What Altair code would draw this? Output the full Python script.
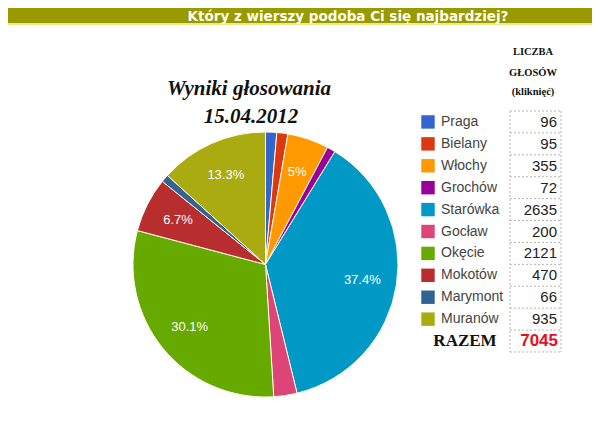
import altair as alt
import pandas as pd

# ---- data ----
names = ["Praga", "Bielany", "Włochy", "Grochów", "Starówka", "Gocław",
         "Okęcie", "Mokotów", "Marymont", "Muranów"]
votes = [96, 95, 355, 72, 2635, 200, 2121, 470, 66, 935]
colors = ["#3366cc", "#dc3912", "#ff9900", "#990099", "#0099c6", "#dd4477",
          "#66aa00", "#b82e2e", "#316395", "#aaaa11"]
title_text = "Który z wierszy podoba Ci się najbardziej?"
subtitle_lines = ["Wyniki głosowania", "15.04.2012"]
header_lines = ["LICZBA", "GŁOSÓW", "(kliknięć)"]
total_label = "RAZEM"

total = sum(votes)


def pct_label(v):
    p = v / total * 100
    if p < 4:
        return ""
    s = f"{p:.1f}"
    if s.endswith(".0"):
        s = s[:-2]
    return s + "%"


df = pd.DataFrame({
    "name": names,
    "votes": votes,
    "idx": list(range(len(names))),
    "row": list(range(len(names))),
    "label": [pct_label(v) for v in votes],
    "vstr": [str(v) for v in votes],
})

W, H = 584, 418
CX, CY, R = 257.5, 256.5, 132.5

color_scale = alt.Scale(domain=names, range=colors)
yscale = alt.Scale(domain=[-0.5, 10.5], range=[103, 344])
one = pd.DataFrame({"a": [0]})

# title bar
bar = alt.Chart(one).mark_rect(color="#999900").encode(
    x=alt.value(0), x2=alt.value(W), y=alt.value(0), y2=alt.value(15))
bar_line = alt.Chart(one).mark_rect(color="#ece98a").encode(
    x=alt.value(0), x2=alt.value(W), y=alt.value(15), y2=alt.value(17))
bar_text = alt.Chart(pd.DataFrame({"t": [title_text]})).mark_text(
    font="DejaVu Sans", fontWeight="bold", fontSize=13.5, color="#fffff0",
    align="center", baseline="middle").encode(
    x=alt.value(340), y=alt.value(8.5), text="t:N")

# subtitle
sub1 = alt.Chart(pd.DataFrame({"t": [subtitle_lines[0]]})).mark_text(
    font="Liberation Serif", fontWeight="bold", fontStyle="italic", fontSize=21,
    color="#111", align="center", baseline="middle").encode(
    x=alt.value(241), y=alt.value(81), text="t:N")
sub2 = alt.Chart(pd.DataFrame({"t": [subtitle_lines[1]]})).mark_text(
    font="Liberation Serif", fontWeight="bold", fontStyle="italic", fontSize=21,
    color="#111", align="center", baseline="middle").encode(
    x=alt.value(243), y=alt.value(109), text="t:N")

# pie
base = alt.Chart(df)
pie = base.mark_arc(outerRadius=R, stroke="#fffbe8", strokeWidth=1).encode(
    theta=alt.Theta("votes:Q", stack=True),
    color=alt.Color("name:N", scale=color_scale, legend=None),
    order=alt.Order("idx:Q"),
    x=alt.value(CX), y=alt.value(CY))
pie_text = base.mark_text(radius=98, font="Liberation Sans", fontSize=13,
                          color="#ffffff").encode(
    theta=alt.Theta("votes:Q", stack=True),
    detail="name:N",
    order=alt.Order("idx:Q"),
    text="label:N",
    x=alt.value(CX), y=alt.value(CY))

# legend
squares = base.mark_square(size=180, opacity=1).encode(
    x=alt.value(420),
    y=alt.Y("row:Q", scale=yscale, axis=None),
    color=alt.Color("name:N", scale=color_scale, legend=None))
leg_text = base.mark_text(align="left", baseline="middle", font="Liberation Sans",
                          fontSize=14, color="#444").encode(
    x=alt.value(433),
    y=alt.Y("row:Q", scale=yscale, axis=None),
    text="name:N")
num_text = base.mark_text(align="right", baseline="middle", font="Liberation Sans",
                          fontSize=15, color="#222").encode(
    x=alt.value(549),
    y=alt.Y("row:Q", scale=yscale, axis=None),
    text="vstr:N")

# table grid
bounds = pd.DataFrame({"b": [i - 0.5 for i in range(len(names) + 2)]})
hrules = alt.Chart(bounds).mark_rule(color="#b5b5b5", strokeDash=[2, 2]).encode(
    y=alt.Y("b:Q", scale=yscale, axis=None), x=alt.value(502), x2=alt.value(553))
vb = pd.DataFrame({"top": [-0.5], "bot": [len(names) + 0.5]})
vrule1 = alt.Chart(vb).mark_rule(color="#b5b5b5", strokeDash=[2, 2]).encode(
    y=alt.Y("top:Q", scale=yscale, axis=None), y2="bot:Q", x=alt.value(502))
vrule2 = alt.Chart(vb).mark_rule(color="#b5b5b5", strokeDash=[2, 2]).encode(
    y=alt.Y("top:Q", scale=yscale, axis=None), y2="bot:Q", x=alt.value(553))

# total row
tot = pd.DataFrame({"row": [len(names)], "t": [total_label], "v": [str(total)]})
tot_label = alt.Chart(tot).mark_text(
    font="Liberation Serif", fontWeight="bold", fontSize=17, color="#111",
    align="center", baseline="middle").encode(
    x=alt.value(457), y=alt.Y("row:Q", scale=yscale, axis=None), text="t:N")
tot_val = alt.Chart(tot).mark_text(
    font="Liberation Sans", fontWeight="bold", fontSize=17, color="#e3101a",
    align="right", baseline="middle").encode(
    x=alt.value(550), y=alt.Y("row:Q", scale=yscale, axis=None), text="v:N")

# header
hdr_layers = []
for t, yy in zip(header_lines, [44, 65, 84]):
    hdr_layers.append(alt.Chart(pd.DataFrame({"t": [t]})).mark_text(
        font="Liberation Serif", fontWeight="bold", fontSize=10.5, color="#111",
        align="center", baseline="middle").encode(
        x=alt.value(525), y=alt.value(yy), text="t:N"))

chart = alt.layer(
    bar, bar_line, bar_text, sub1, sub2, pie, pie_text,
    hrules, vrule1, vrule2, squares, leg_text, num_text,
    tot_label, tot_val, *hdr_layers
).properties(
    width=W, height=H, autosize="none", padding=0
).configure_view(stroke=None)

chart.save("out.html", embed_options={"renderer": "svg", "actions": False})
